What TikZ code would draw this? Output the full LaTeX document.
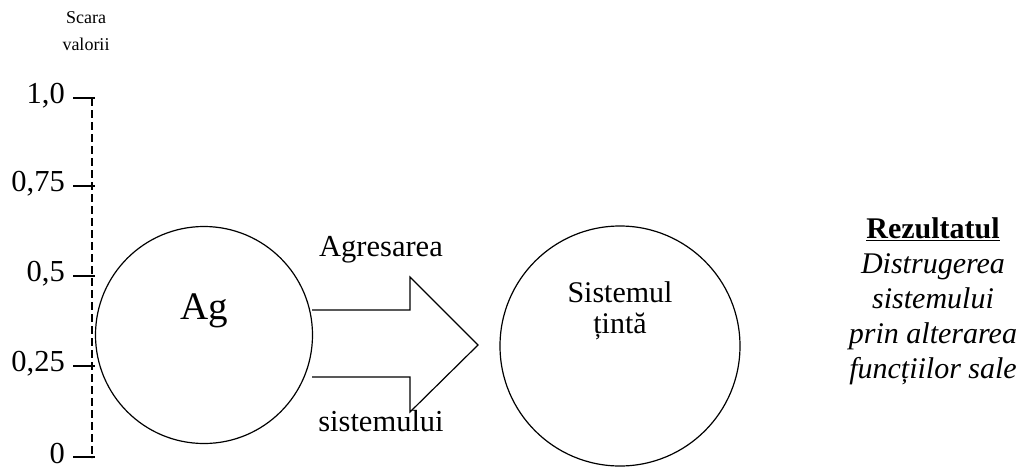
\documentclass[tikz,border=0pt]{standalone}
\usepackage{fontspec}
\setmainfont{Liberation Serif}
\begin{document}
\begin{tikzpicture}[x=1pt,y=-1pt,
  lbl/.style={inner sep=0pt,font=\fontsize{30.5}{32}\selectfont},
  small/.style={inner sep=0pt,font=\fontsize{18}{27}\selectfont,align=center},
  tick/.style={line width=1.2pt},
  circ/.style={draw,circle,line width=1.2pt,inner sep=0pt}]
\useasboundingbox (0,0) rectangle (1025,469);
% axis
\coordinate (atop) at (92,98);
\coordinate (abot) at (92,458);
\draw[line width=1.2pt,dash pattern=on 8pt off 4pt] (atop) -- (abot);
\node[small] (scara) at (86,31) {Scara\\valorii};
\foreach \y/\t/\n/\dy in {98/{1,0}/a/2,186/{0,75}/b/2,276/{0,5}/c/2,366/{0,25}/d/2,457/0/e/4}{
  \coordinate (t\n) at (73,\y);
  \draw[tick] (t\n) -- ++(22,0);
  \node[lbl,anchor=east] (l\n) at (65,\y-\dy) {\t};
}
% Ag circle
\node[circ,minimum size=217pt] (ag) at (204,335) {};
\node[inner sep=0pt,font=\fontsize{39}{40}\selectfont] (agt) at (204,311) {Ag};
% arrow
\draw[line width=1.2pt] (312,310) -- (410,310) -- (410,277) -- (478,345) -- (410,412) -- (410,377) -- (312,377);
\node[lbl] (agr) at (381,250) {Agresarea};
\node[lbl] (sis) at (381,421) {sistemului};
% target circle
\node[circ,minimum size=240pt] (st) at (620,346) {};
\node[lbl,align=center,font=\fontsize{30}{31}\selectfont] (stt) at (620,311) {Sistemul\\țintă};
% result
\node[inner sep=0pt,align=center,font=\fontsize{30}{35}\selectfont] (res) at (933,301)
  {\textbf{\underline{Rezultatul}}\\\textit{Distrugerea}\\\textit{sistemului}\\\textit{prin alterarea}\\\textit{funcțiilor sale}};
\end{tikzpicture}
\end{document}
